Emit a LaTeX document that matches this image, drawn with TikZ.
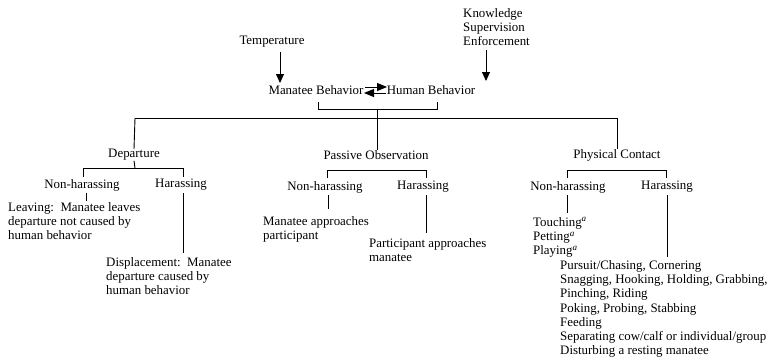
\documentclass[tikz,border=0pt]{standalone}
\usepackage{fontspec}
\setmainfont{Liberation Serif}
\usetikzlibrary{arrows.meta}
\tikzset{
  lbl/.style={inner sep=0pt, font=\fontsize{12.9}{14.3}\selectfont},
  txt/.style={lbl, align=left, anchor=north west},
  link/.style={line width=0.9pt},
  push/.style={link, -{Triangle[length=9pt,width=8pt]}},
  swap/.style={link, -{Triangle[length=10pt,width=8pt]}}
}
\newcommand{\supa}{\textsuperscript{\textit{a}}}
\begin{document}
\begin{tikzpicture}[x=1pt,y=-1pt]
    \useasboundingbox (0,0) rectangle (769,362);
    % influences
    \node[txt] (know) at (463,8) {Knowledge\\Supervision\\Enforcement};
    \node[lbl] (temp) at (272,42) {Temperature};
    \node[lbl] (mb) at (316,90) {Manatee Behavior};
    \node[lbl] (hb) at (431,90) {Human Behavior};
    \coordinate (tt) at (280,83);
    \coordinate (kt) at (486,81);
    \draw[push] (temp.south -| tt) ++(0,4) -- (tt);
    \draw[push] (know.south -| kt) ++(0,4) -- (kt);
    % two-way link
    \coordinate (ua) at (365,87);
    \coordinate (ub) at (387,87);
    \coordinate (la) at (364,93);
    \coordinate (lb) at (386,93);
    \draw[swap] (ua) -- (ub);
    \draw[swap] (lb) -- (la);

    % bracket and main line
    \coordinate (bl) at (318,102);
    \coordinate (br) at (437,102);
    \coordinate (bm) at (377,109);
    \coordinate (ml) at (135,118);
    \coordinate (mr) at (617,118);
    \draw[link] (bl) |- (br |- bm) -- (br);
    \draw[link] (ml) -- (mr);

    % categories
    \node[lbl] (dep) at (134,155) {Departure};
    \node[lbl] (pas) at (376,155) {Passive Observation};
    \node[lbl] (phy) at (617,155) {Physical Contact};
    \draw[link] (ml) -- (dep.north);
    \draw[link] (bm) -- (bm |- pas.north);
    \draw[link] (mr) -- (phy.north);

    % departure
    \node[lbl] (dnh) at (82,185) {Non-harassing};
    \node[lbl] (dh) at (181,185) {Harassing};
    \draw[link] (dep.south) -- (135,168);
    \draw[link] (83,177) |- (183,168) -- (183,177);
    \node[txt] (leave) at (8,202) {Leaving:\ \ Manatee leaves\\departure not caused by\\human behavior};
    \node[txt] (displ) at (106,257) {Displacement:\ \ Manatee\\departure caused by\\human behavior};
    \draw[link] (86,193) -- (86,201);
    \draw[link] (183,193) -- (183,253);

    % passive observation
    \node[lbl] (pnh) at (325,187) {Non-harassing};
    \node[lbl] (ph) at (423,187) {Harassing};
    \draw[link] (327,178) |- (426,170) -- (426,178);
    \node[txt] (mapp) at (263,216) {Manatee approaches\\participant};
    \node[txt] (papp) at (369,238) {Participant approaches\\manatee};
    \draw[link] (328,195) -- (328,209);
    \draw[link] (426,195) -- (426,233);

    % physical contact
    \node[lbl] (cnh) at (568,187) {Non-harassing};
    \node[lbl] (ch) at (667,187) {Harassing};
    \draw[link] (567,178) |- (666,170) -- (666,178);
    \node[txt] (touch) at (533,217) {Touching\supa\\Petting\supa\\Playing\supa};
    \node[txt] (acts) at (560,260) {Pursuit/Chasing, Cornering\\Snagging, Hooking, Holding, Grabbing,\\Pinching, Riding\\Poking, Probing, Stabbing\\Feeding\\Separating cow/calf or individual/group\\Disturbing a resting manatee};
    \draw[link] (567,195) -- (567,213);
    \draw[link] (667,195) -- (667,257);
\end{tikzpicture}
\end{document}
